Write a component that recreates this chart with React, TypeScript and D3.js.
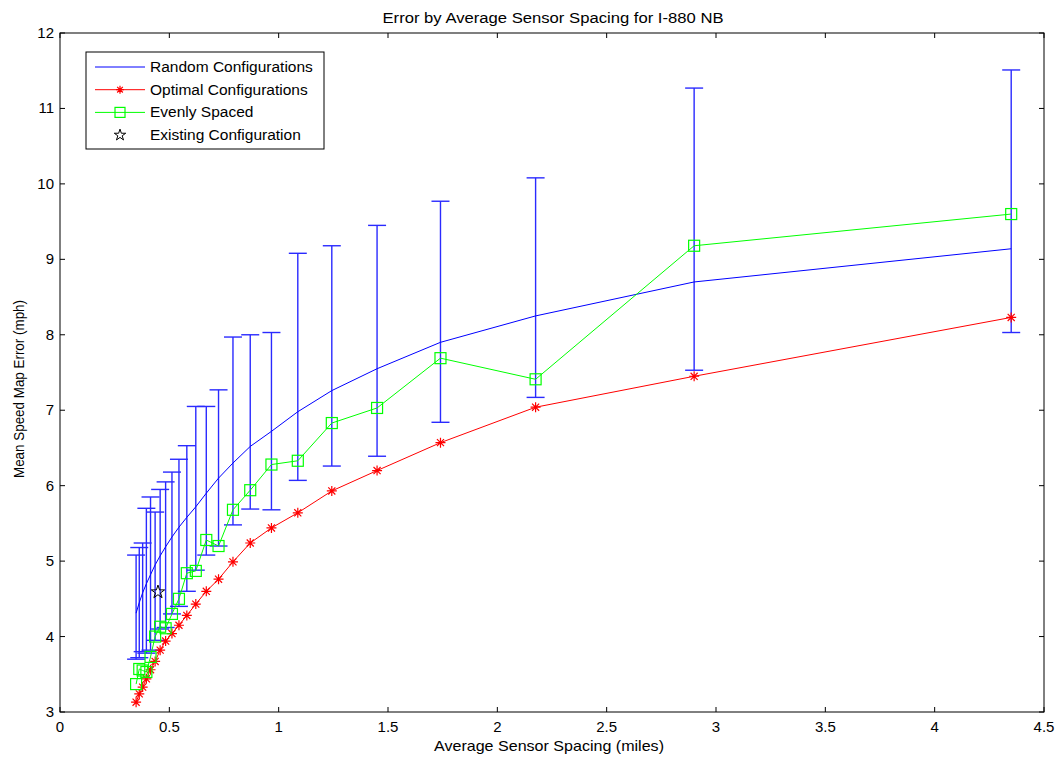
import React from "react";
import * as d3 from "d3";

const spacing = [4.35, 2.9, 2.175, 1.74, 1.45, 1.243, 1.0875, 0.967, 0.87, 0.791, 0.725, 0.669, 0.621, 0.58, 0.544, 0.512, 0.483, 0.458, 0.435, 0.414, 0.395, 0.378, 0.3625, 0.348];
const randomMean = [9.14, 8.70, 8.25, 7.90, 7.55, 7.26, 6.98, 6.72, 6.52, 6.30, 6.10, 5.90, 5.72, 5.58, 5.45, 5.32, 5.19, 5.07, 4.95, 4.82, 4.70, 4.58, 4.45, 4.31];
const randomMax = [11.51, 11.27, 10.08, 9.77, 9.45, 9.18, 9.08, 8.03, 8.00, 7.97, 7.27, 7.05, 7.05, 6.53, 6.35, 6.18, 6.05, 5.95, 5.65, 5.85, 5.70, 5.24, 5.18, 5.08];
const randomMin = [8.03, 7.53, 7.17, 6.84, 6.39, 6.26, 6.07, 5.68, 5.69, 5.48, 5.20, 5.08, 4.88, 4.60, 4.40, 4.30, 4.12, 4.10, 3.95, 3.82, 3.78, 3.80, 3.72, 3.70];
const optimal = [8.23, 7.45, 7.04, 6.57, 6.20, 5.93, 5.64, 5.44, 5.24, 4.99, 4.76, 4.60, 4.43, 4.28, 4.15, 4.04, 3.94, 3.82, 3.67, 3.56, 3.44, 3.33, 3.24, 3.13];
const evenly = [9.60, 9.18, 7.41, 7.69, 7.03, 6.83, 6.33, 6.28, 5.94, 5.68, 5.20, 5.28, 4.87, 4.84, 4.50, 4.30, 4.11, 4.13, 4.00, 3.73, 3.53, 3.55, 3.57, 3.37];
const existing = [{ x: 0.448, y: 4.59 }];

const xTicks = [0, 0.5, 1, 1.5, 2, 2.5, 3, 3.5, 4, 4.5];
const yTicks = [3, 4, 5, 6, 7, 8, 9, 10, 11, 12];

const title = "Error by Average Sensor Spacing for I-880 NB";
const xLabel = "Average Sensor Spacing (miles)";
const yLabel = "Mean Speed Map Error (mph)";
const legendLabels = ["Random Configurations", "Optimal Configurations", "Evenly Spaced", "Existing Configuration"];

const W = 1057, H = 757;
const L = 60, R = 1044, T = 33, B = 712;
const FONT = "'Liberation Sans', Arial, sans-serif";

function starPath(cx: number, cy: number, r: number) {
  const d: string[] = [];
  for (let i = 0; i < 4; i++) {
    const a = (i * Math.PI) / 4;
    d.push(`M${cx - r * Math.cos(a)},${cy - r * Math.sin(a)}L${cx + r * Math.cos(a)},${cy + r * Math.sin(a)}`);
  }
  return d.join("");
}

function pentagram(cx: number, cy: number, ro: number) {
  const ri = ro * 0.382;
  const pts: string[] = [];
  for (let i = 0; i < 10; i++) {
    const r = i % 2 === 0 ? ro : ri;
    const a = -Math.PI / 2 + (i * Math.PI) / 5;
    pts.push(`${cx + r * Math.cos(a)},${cy + r * Math.sin(a)}`);
  }
  return "M" + pts.join("L") + "Z";
}

export default function App() {
  const x = d3.scaleLinear().domain([0, 4.5]).range([L, R]);
  const y = d3.scaleLinear().domain([3, 12]).range([B, T]);
  const line = d3.line<number>().x((_, i) => x(spacing[i])).y((v) => y(v));
  const cap = 9;
  const tick = 5;

  return (
    <svg width={W} height={H} style={{ position: "absolute", left: 0, top: 0, background: "#fff" }} fontFamily={FONT}>
      <rect x={0} y={0} width={W} height={H} fill="#fff" />
      {/* error bars */}
      <g stroke="#2a2aff" strokeWidth={1.4} fill="none">
        {spacing.map((s, i) => (
          <g key={i}>
            <line x1={x(s)} x2={x(s)} y1={y(randomMin[i])} y2={y(randomMax[i])} />
            <line x1={x(s) - cap} x2={x(s) + cap} y1={y(randomMax[i])} y2={y(randomMax[i])} />
            <line x1={x(s) - cap} x2={x(s) + cap} y1={y(randomMin[i])} y2={y(randomMin[i])} />
          </g>
        ))}
      </g>
      <path d={line(randomMean) || ""} stroke="#0000ff" strokeWidth={1} fill="none" />
      <path d={line(optimal) || ""} stroke="#ff0000" strokeWidth={1} fill="none" />
      <g stroke="#ff0000" strokeWidth={1.2}>
        {optimal.map((v, i) => (
          <path key={i} d={starPath(x(spacing[i]), y(v), 5)} />
        ))}
      </g>
      <path d={line(evenly) || ""} stroke="#00ff00" strokeWidth={1} fill="none" />
      <g stroke="#00ff00" strokeWidth={1.2} fill="none">
        {evenly.map((v, i) => (
          <rect key={i} x={x(spacing[i]) - 5.5} y={y(v) - 5.5} width={11} height={11} />
        ))}
      </g>
      {existing.map((p, i) => (
        <path key={i} d={pentagram(x(p.x), y(p.y), 7)} stroke="#000" strokeWidth={1} fill="none" />
      ))}

      {/* axes box */}
      <rect x={L} y={T} width={R - L} height={B - T} fill="none" stroke="#000" strokeWidth={1} />
      <g stroke="#000" strokeWidth={1}>
        {xTicks.map((t) => (
          <g key={t}>
            <line x1={x(t)} x2={x(t)} y1={B} y2={B - tick} />
            <line x1={x(t)} x2={x(t)} y1={T} y2={T + tick} />
          </g>
        ))}
        {yTicks.map((t) => (
          <g key={t}>
            <line x1={L} x2={L + tick} y1={y(t)} y2={y(t)} />
            <line x1={R} x2={R - tick} y1={y(t)} y2={y(t)} />
          </g>
        ))}
      </g>
      <g fontSize={15} fill="#000">
        {xTicks.map((t) => (
          <text key={t} x={x(t)} y={B + 20} textAnchor="middle">{String(t)}</text>
        ))}
        {yTicks.map((t) => (
          <text key={t} x={L - 6} y={y(t) + 5} textAnchor="end">{String(t)}</text>
        ))}
      </g>
      <text x={553} y={23} textAnchor="middle" fontSize={14} textLength={341} lengthAdjust="spacingAndGlyphs">{title}</text>
      <text x={549} y={751} textAnchor="middle" fontSize={15} textLength={230} lengthAdjust="spacingAndGlyphs">{xLabel}</text>
      <text transform={`translate(24,389) rotate(-90)`} textAnchor="middle" fontSize={14} textLength={178} lengthAdjust="spacingAndGlyphs">{yLabel}</text>

      {/* legend */}
      <g>
        <rect x={86} y={52} width={238} height={97} fill="#fff" stroke="#000" strokeWidth={1} />
        {legendLabels.map((lab, i) => {
          const ly = 67 + i * 22.7;
          return (
            <g key={i}>
              {i === 0 && <line x1={95} x2={145} y1={ly} y2={ly} stroke="#0000ff" />}
              {i === 1 && (
                <g>
                  <line x1={95} x2={145} y1={ly} y2={ly} stroke="#ff0000" />
                  <path d={starPath(120, ly, 4)} stroke="#ff0000" strokeWidth={1.2} />
                </g>
              )}
              {i === 2 && (
                <g>
                  <line x1={95} x2={145} y1={ly} y2={ly} stroke="#00ff00" />
                  <rect x={115} y={ly - 5} width={10} height={10} stroke="#00ff00" fill="none" strokeWidth={1.2} />
                </g>
              )}
              {i === 3 && <path d={pentagram(120, ly, 6)} stroke="#000" fill="none" />}
              <text x={150} y={ly + 5} fontSize={15.5}>{lab}</text>
            </g>
          );
        })}
      </g>
    </svg>
  );
}
